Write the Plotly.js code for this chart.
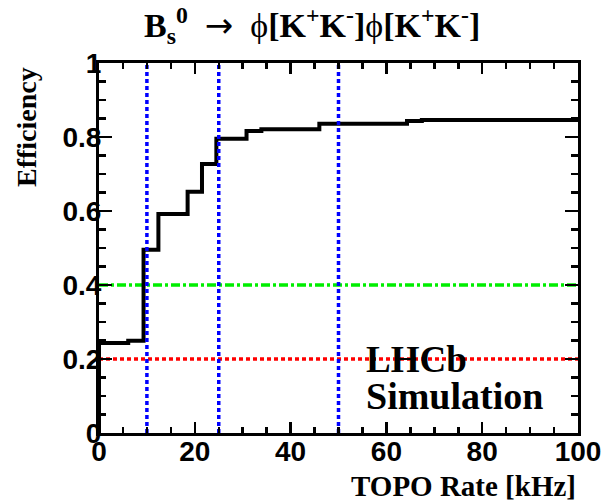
<!DOCTYPE html>
<html>
<head>
<meta charset="utf-8">
<script src="https://cdn.plot.ly/plotly-3.0.1.min.js"></script>
<style>html,body{margin:0;padding:0;background:#fff;}</style>
</head>
<body>
<div id="chart" style="width:605px;height:502px;"></div>
<script>
// Histogram bin edges (TOPO rate, kHz) and efficiency per bin
const binEdges = [0, 6.1, 9.3, 12.4, 18.5, 21.5, 24.5, 30.8, 33.9, 46.0, 64.3, 67.4, 100];
const efficiency = [0.243, 0.249, 0.495, 0.592, 0.652, 0.727, 0.795, 0.816, 0.821, 0.836, 0.843, 0.846];
// Reference lines
const rateCuts = [10, 25, 50];
const effLevelRed = 0.2;
const effLevelGreen = 0.4;
const xRange = [0, 100];
const yRange = [0, 1];

// Build step trace from arrays
const stepX = [binEdges[0]];
const stepY = [0];
for (let i = 0; i < efficiency.length; i++) {
  stepX.push(binEdges[i]); stepY.push(efficiency[i]);
}
stepX.push(binEdges[binEdges.length - 1]); stepY.push(efficiency[efficiency.length - 1]);

const traces = [];
traces.push({
  x: [xRange[0], xRange[1]], y: [effLevelRed, effLevelRed], mode: 'lines',
  line: {color: '#ff0000', width: 3.5, dash: '4px,3px'}, hoverinfo: 'skip'
});
traces.push({
  x: [xRange[0], xRange[1]], y: [effLevelGreen, effLevelGreen], mode: 'lines',
  line: {color: '#00ee00', width: 3.5, dash: '9px,3px,3px,3px'}, hoverinfo: 'skip'
});
traces.push({
  x: stepX, y: stepY, mode: 'lines', line: {color: '#000', width: 4, shape: 'hv'}
});
rateCuts.forEach(c => traces.push({
  x: [c, c], y: [yRange[0], yRange[1]], mode: 'lines',
  line: {color: '#0000ff', width: 3.5, dash: '4px,3px'}, hoverinfo: 'skip'
}));

const tickFont = {family: 'Liberation Sans, Arial, sans-serif', size: 28, color: '#000', weight: 'bold'};
const serif = 'Liberation Serif, Times New Roman, serif';

const layout = {
  width: 605, height: 502,
  margin: {l: 99, r: 27, t: 63, b: 69},
  paper_bgcolor: '#fff', plot_bgcolor: '#fff',
  showlegend: false,
  xaxis: {
    range: xRange, dtick: 20, ticks: 'inside', ticklen: 11, tickwidth: 2.5, tickcolor: '#000',
    showline: true, linewidth: 3, linecolor: '#000', mirror: 'allticks',
    showgrid: false, zeroline: false, tickfont: tickFont, ticklabelstandoff: -9,
    minor: {dtick: 5, ticks: 'inside', ticklen: 6, tickwidth: 2.5, tickcolor: '#000', showgrid: false}
  },
  yaxis: {
    range: yRange, dtick: 0.2, ticks: 'inside', ticklen: 13, tickwidth: 2.5, tickcolor: '#000',
    showline: true, linewidth: 3, linecolor: '#000', mirror: 'allticks',
    showgrid: false, zeroline: false, tickfont: tickFont, ticklabelstandoff: -11,
    minor: {dtick: 0.05, ticks: 'inside', ticklen: 7, tickwidth: 2.5, tickcolor: '#000', showgrid: false}
  },
  annotations: [
    {text: 'B<sub>s</sub><sup>0</sup>&nbsp;&nbsp;<span style="font-family:DejaVu Sans;font-weight:normal">→</span>&nbsp;&nbsp;<span style="font-weight:normal">ϕ</span>[K<sup>+</sup>K<sup>-</sup>]<span style="font-weight:normal">ϕ</span>[K<sup>+</sup>K<sup>-</sup>]',
     xref: 'paper', yref: 'paper', x: 0.445, y: 1.1, xanchor: 'center', yanchor: 'middle',
     showarrow: false, font: {family: serif, size: 34, color: '#000', weight: 'bold'}},
    {text: 'Efficiency', textangle: -90, xref: 'paper', yref: 'paper', x: -0.15, y: 0.995,
     xanchor: 'center', yanchor: 'top', showarrow: false,
     font: {family: serif, size: 28, color: '#000', weight: 'bold'}},
    {text: 'TOPO Rate [kHz]', xref: 'paper', yref: 'paper', x: 1.0, y: -0.143,
     xanchor: 'right', yanchor: 'middle', showarrow: false,
     font: {family: serif, size: 29, color: '#000', weight: 'bold'}},
    {text: 'LHCb', xref: 'paper', yref: 'paper', x: 0.553, y: 0.2,
     xanchor: 'left', yanchor: 'middle', showarrow: false,
     font: {family: serif, size: 37, color: '#000', weight: 'bold'}},
    {text: 'Simulation', xref: 'paper', yref: 'paper', x: 0.553, y: 0.1,
     xanchor: 'left', yanchor: 'middle', showarrow: false,
     font: {family: serif, size: 38, color: '#000', weight: 'bold'}}
  ]
};

Plotly.newPlot('chart', traces, layout, {displayModeBar: false, staticPlot: true});
</script>
</body>
</html>
